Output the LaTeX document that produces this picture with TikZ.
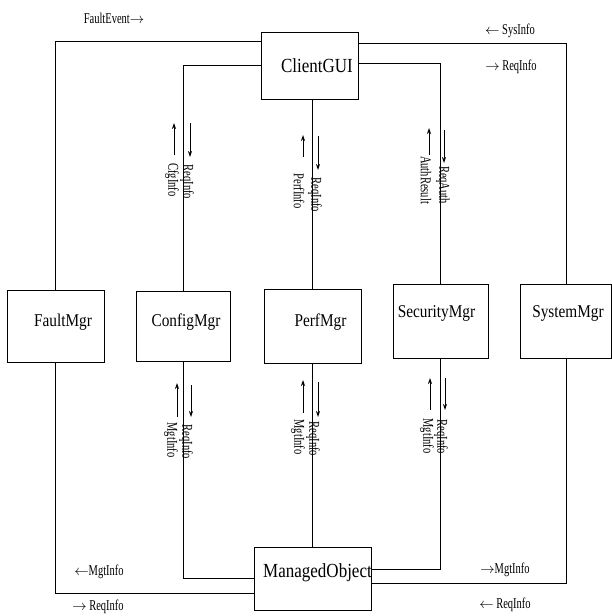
\documentclass[tikz,border=0pt]{standalone}
\usepackage{fontspec}
\setmainfont{Liberation Serif}
\newfontfamily\boxfont{Liberation Serif}[FakeStretch=0.85]
\newfontfamily\lblfont{Liberation Serif}[FakeStretch=0.7]
\usetikzlibrary{calc,arrows.meta}
\begin{document}
\begin{tikzpicture}[x=1pt,y=-1pt,
  box/.style={draw,line width=0.9pt,inner sep=0pt},
  conn/.style={line width=0.8pt},
  arr/.style={line width=0.8pt,-{Stealth[length=6pt,width=4pt]}},
  lbl/.style={font=\lblfont\fontsize{15}{15}\selectfont,inner sep=0pt},
  vlbl/.style={font=\lblfont\fontsize{15}{15}\selectfont,inner sep=0pt,rotate=-90},
  bigtxt/.style={font=\boxfont\fontsize{20}{20}\selectfont},
  midtxt/.style={font=\boxfont\fontsize{18}{18}\selectfont}]
\useasboundingbox (0,0) rectangle (612,616);
% boxes
\node[box,minimum width=97pt,minimum height=67pt,
  label={[bigtxt,xshift=7.5pt]center:ClientGUI}] (gui) at (309.5,65.5) {};
\node[box,minimum width=117pt,minimum height=63pt,
  label={[bigtxt,xshift=5pt,yshift=6pt]center:ManagedObject}] (mo) at (312.5,578.5) {};
\node[box,minimum width=97pt,minimum height=72pt,
  label={[midtxt,xshift=7.5pt,yshift=4pt]center:FaultMgr}] (fault) at (55.5,326) {};
\node[box,minimum width=94pt,minimum height=70pt,
  label={[midtxt,xshift=3pt,yshift=4pt]center:ConfigMgr}] (config) at (183,326) {};
\node[box,minimum width=97pt,minimum height=74pt,
  label={[midtxt,xshift=8pt,yshift=4pt]center:PerfMgr}] (perf) at (312.5,326) {};
\node[box,minimum width=95pt,minimum height=74pt,
  label={[midtxt,xshift=-4pt,yshift=8pt]center:SecurityMgr}] (sec) at (440.5,321) {};
\node[box,minimum width=91pt,minimum height=74pt,
  label={[midtxt,xshift=2pt,yshift=8pt]center:SystemMgr}] (sys) at (566,321) {};
% top connectors
\draw[conn] ($(gui.north west)+(0,10)$) -| (fault.north);
\draw[conn] ($(gui.north west)+(0,34)$) -| (config.north);
\draw[conn] (perf.north |- gui.south) -- (perf.north);
\draw[conn] ($(gui.north east)+(0,32)$) -| (sec.north);
\draw[conn] ($(gui.north east)+(0,12)$) -| (sys.north);
% bottom connectors
\draw[conn] (fault.south) |- ($(mo.north west)+(0,47)$);
\draw[conn] (config.south) |- ($(mo.north west)+(0,32)$);
\draw[conn] (perf.south) -- (perf.south |- mo.north);
\draw[conn] (sec.south) |- ($(mo.north east)+(0,23)$);
\draw[conn] (sys.south) |- ($(mo.north east)+(0,37)$);
% horizontal labels
\node[lbl] (l1) at (114,18) {FaultEvent$\rightarrow$};
\node[lbl] (l2) at (510,31) {$\leftarrow$ SysInfo};
\node[lbl] (l3) at (511,67) {$\rightarrow$ ReqInfo};
\node[lbl] (l4) at (99,572) {$\leftarrow$MgtInfo};
\node[lbl] (l5) at (98,607) {$\rightarrow$ ReqInfo};
\node[lbl] (l6) at (505,570) {$\rightarrow$MgtInfo};
\node[lbl] (l7) at (505,605) {$\leftarrow$ ReqInfo};
% vertical arrows, top
\draw[arr] (174,155) -- (174,123);
\draw[arr] (190,123) -- (190,157);
\draw[arr] (303,157) -- (303,135);
\draw[arr] (318,136) -- (318,170);
\draw[arr] (429,155) -- (429,128);
\draw[arr] (444,130) -- (444,163);
% vertical arrows, bottom
\draw[arr] (177,417) -- (177,383);
\draw[arr] (191,385) -- (191,417);
\draw[arr] (303,413) -- (303,380);
\draw[arr] (318,382) -- (318,417);
\draw[arr] (430,410) -- (430,378);
\draw[arr] (445,378) -- (445,410);
% vertical labels, top
\node[vlbl] (v1) at (187,182) {ReqInfo};
\node[vlbl] (v2) at (172,180) {CfgInfo};
\node[vlbl] (v3) at (315,195) {ReqInfo};
\node[vlbl] (v4) at (299,191) {PerfInfo};
\node[vlbl] (v5) at (443,185) {ReqAuth};
\node[vlbl] (v6) at (426,180) {AuthResult};
% vertical labels, bottom
\node[vlbl] (v7) at (186,442) {ReqInfo};
\node[vlbl] (v8) at (171,440) {MgtInfo};
\node[vlbl] (v9) at (313,439) {ReqInfo};
\node[vlbl] (v10) at (298,437) {MgtInfo};
\node[vlbl] (v11) at (441,437) {ReqInfo};
\node[vlbl] (v12) at (427,436) {MgtInfo};
\end{tikzpicture}
\end{document}
